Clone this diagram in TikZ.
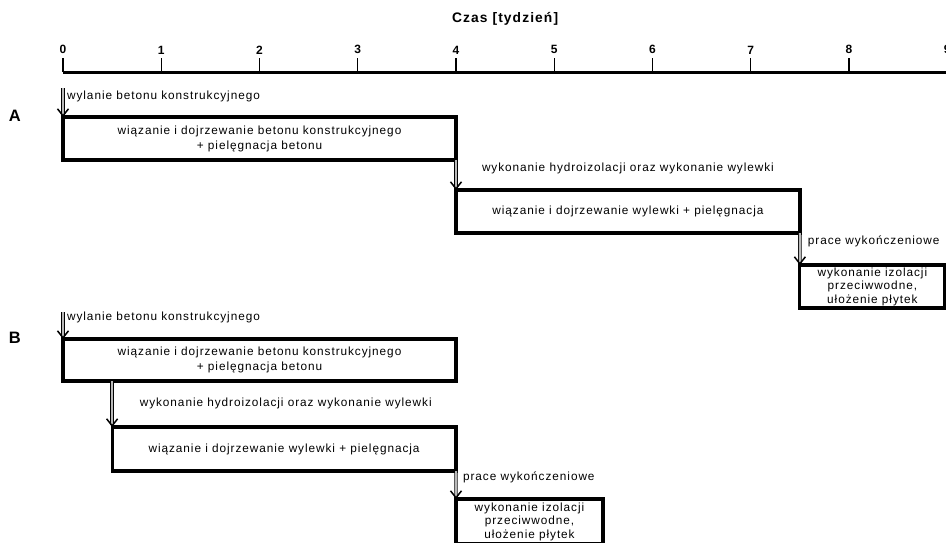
\documentclass[tikz,border=0pt]{standalone}
\usepackage{fontspec}
\setmainfont[LetterSpace=8]{Liberation Sans}
\usetikzlibrary{arrows.meta}
\tikzset{
  stage/.style={draw, line width=3.2pt, anchor=north west, outer sep=0pt, inner sep=0pt,
    minimum height=43pt, align=center, font=\fontsize{11.8}{15}\selectfont},
  lbl/.style={inner sep=0pt, font=\fontsize{11.8}{14}\selectfont},
  conn/.style={draw=black, line width=0.7pt, double=gray!55, double distance=2pt,
    -{Straight Barb[length=7pt,width=11pt,line width=1.5pt]}}
}
\begin{document}
\begin{tikzpicture}[x=98.25pt,y=-1pt]
\clip (-0.64122,0) rectangle (8.98728,542);
% os czasu
\node[font=\bfseries\fontsize{13.8}{16}\selectfont] (czas) at (4.5,19) {Czas [tydzień]};
\draw[line width=3pt] (0,72) -- (9.2,72);
\foreach \t in {0,...,9}
  \draw[line width=1.2pt] (\t,72) -- (\t,58) node[above, font=\bfseries\fontsize{12}{14}\selectfont] {\t};

% wariant A
\node[font=\bfseries\fontsize{16.5}{18}\selectfont] (A) at (-0.49,115.5) {A};
\coordinate (a0) at (0,88);
\node[stage, minimum width=393pt] (a1) at (0,117)
  {wiązanie i dojrzewanie betonu konstrukcyjnego\\+ pielęgnacja betonu};
\node[stage, minimum width=343.9pt] (a2) at (4,190)
  {wiązanie i dojrzewanie wylewki + pielęgnacja};
\node[stage, minimum width=145pt, font=\fontsize{11.8}{13.5}\selectfont] (a3) at (7.5,265)
  {wykonanie izolacji\\przeciwwodne,\\ułożenie płytek};
\draw[conn] (a0) -- (a1.north west);
\draw[conn] (a1.south east) -- (a2.north west);
\draw[conn] (a2.south east) -- (a3.north west);
\node[lbl, anchor=west] (la1) at (0.04,96) {wylanie betonu konstrukcyjnego};
\node[lbl] (la2) at (5.75,168) {wykonanie hydroizolacji oraz wykonanie wylewki};
\node[lbl, anchor=west] (la3) at (7.58,241) {prace wykończeniowe};

% wariant B
\node[font=\bfseries\fontsize{16.5}{18}\selectfont] (B) at (-0.49,338) {B};
\coordinate (b0) at (0,312);
\node[stage, minimum width=393pt, minimum height=42pt] (b1) at (0,339)
  {wiązanie i dojrzewanie betonu konstrukcyjnego\\+ pielęgnacja betonu};
\node[stage, minimum width=343.9pt, minimum height=44pt] (b2) at (0.5,427)
  {wiązanie i dojrzewanie wylewki + pielęgnacja};
\node[stage, minimum width=147pt, minimum height=45pt, font=\fontsize{11.8}{13.5}\selectfont] (b3) at (4,499)
  {wykonanie izolacji\\przeciwwodne,\\ułożenie płytek};
\draw[conn] (b0) -- (b1.north west);
\draw[conn] (b2.north west |- b1.south) -- (b2.north west);
\draw[conn] (b2.south east) -- (b3.north west);
\node[lbl, anchor=west] (lb1) at (0.04,317) {wylanie betonu konstrukcyjnego};
\node[lbl, anchor=west] (lb2) at (0.78,403) {wykonanie hydroizolacji oraz wykonanie wylewki};
\node[lbl, anchor=west] (lb3) at (4.07,477) {prace wykończeniowe};
\end{tikzpicture}
\end{document}
